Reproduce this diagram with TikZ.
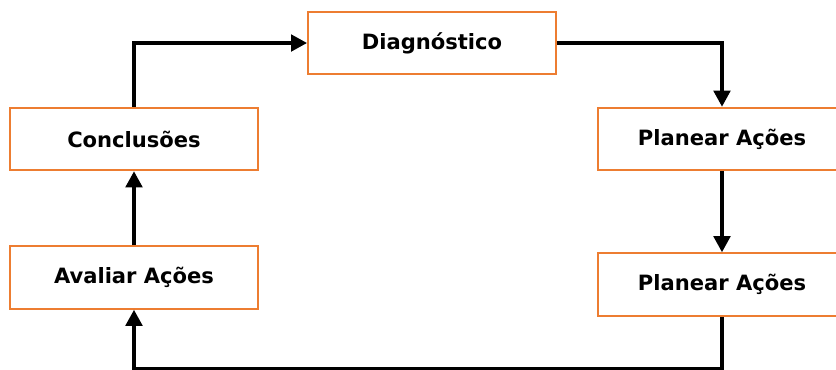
\documentclass[tikz,border=0pt]{standalone}
\usepackage{fontspec}
\setmainfont{DejaVu Sans}
\usetikzlibrary{arrows.meta}
\definecolor{boxorange}{RGB}{237,125,49}
\begin{document}
\begin{tikzpicture}[x=0.75pt,y=-0.75pt,
    etapa/.style={draw=boxorange,line width=1.5pt,fill=white,minimum width=186pt,
                  minimum height=47pt,inner sep=0pt,
                  font=\fontsize{15.8}{19}\selectfont\bfseries},
    seta/.style={line width=2.3pt,-{Triangle[length=12pt,width=12.5pt]}}]
% \clip (0,0) rectangle (836,369);
\clip (0,0) rectangle (836,369);

% Drawing the boxes
\node [etapa] (diag) at (432,43) {Diagnóstico};
\node [etapa] (concl) at (134,139) {Conclusões};
\node [etapa] (aval) at (134,277.5) {Avaliar Ações};
\node [etapa] (plan1) at (722,139) {Planear Ações};
\node [etapa] (plan2) at (722,284.5) {Planear Ações};

% Marking the bottom line
\coordinate (base) at (0,368.5);

% Drawing the cycle
\draw [seta] (concl.north) |- (diag.west);
\draw [seta] (diag.east) -| (plan1.north);
\draw [seta] (plan1.south) -- (plan2.north);
\draw [seta] (plan2.south) -- (plan2.south |- base) -| (aval.south);
\draw [seta] (aval.north) -- (concl.south);
\end{tikzpicture}
\end{document}
